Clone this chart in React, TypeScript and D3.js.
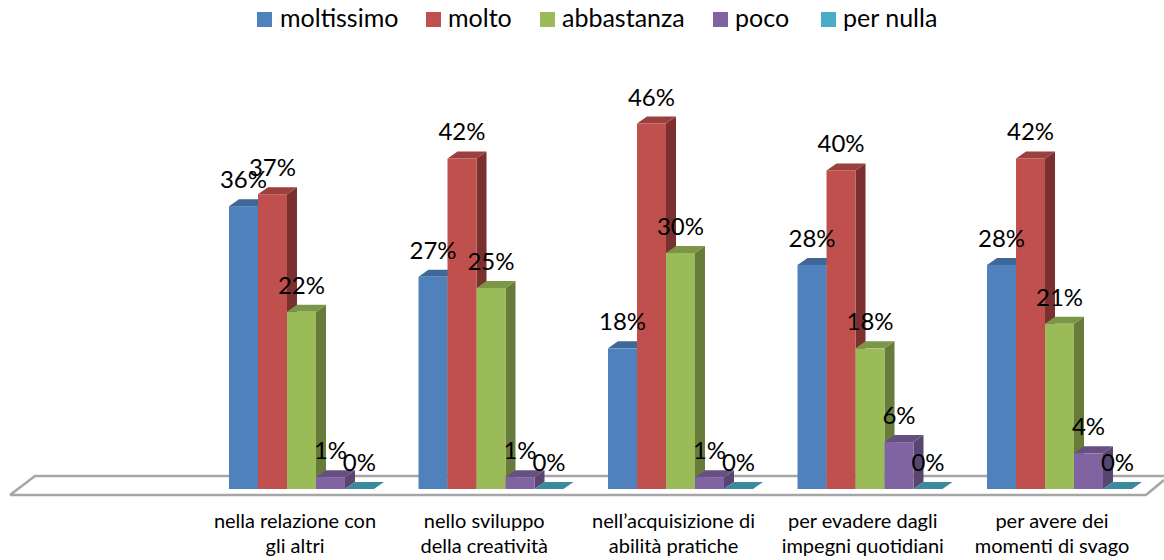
import * as d3 from "d3";

const categories = ["c1", "c2", "c3", "c4", "c5"];
const categoryLines = [
  ["nella relazione con", "gli altri"],
  ["nello sviluppo", "della creatività"],
  ["nell’acquisizione di", "abilità pratiche"],
  ["per evadere dagli", "impegni quotidiani"],
  ["per avere dei", "momenti di svago"],
];
const seriesNames = ["moltissimo", "molto", "abbastanza", "poco", "per nulla"];
const moltissimo = [35.6, 26.7, 17.7, 28.2, 28.2];
const molto = [37.1, 41.6, 46, 40.1, 41.6];
const abbastanza = [22.3, 25.3, 29.7, 17.7, 20.8];
const poco = [1.49, 1.49, 1.49, 5.9, 4.49];
const perNulla = [0, 0, 0, 0, 0];
const seriesValues = [moltissimo, molto, abbastanza, poco, perNulla];

const frontColors = ["#4f81bd", "#c0504d", "#9bbb59", "#8064a2", "#4bacc6"];
const topColors = ["#3f6797", "#9a403e", "#7c9647", "#665082", "#3c899e"];
const sideColors = ["#375a83", "#7a302f", "#677c3b", "#584671", "#34788a"];
const legendX = [257, 426, 540, 713, 821];

const W = 1164, H = 560;
const baseY = 489;
const dx = 10, dy = 7;
const font = "Lato, 'Open Sans', sans-serif";

const x0 = d3.scaleBand<string>()
  .domain(categories)
  .range([206.75, 1154.25])
  .paddingInner(0.235)
  .paddingOuter(0.1174);
const x1 = d3.scaleBand<string>()
  .domain(seriesNames)
  .range([0, x0.bandwidth()]);
const y = d3.scaleLinear().domain([0, 46]).range([baseY, 123.5]);
const labelX = d3.scalePoint<string>().domain(categories).range([295, 1052]);

// floor of the 3D plot
const floor = d3.line()([[10, 495], [1146, 495], [1164, 480]]) as string;
const floorBack = d3.line()([[10, 495], [35, 476], [1164, 476]]) as string;

function poly(pts: [number, number][]) {
  return d3.line()(pts) + "Z";
}

export default function App() {
  return (
    <svg
      width={W}
      height={H}
      style={{ position: "absolute", left: 0, top: 0, background: "#fff" }}
      fontFamily={font}
    >
      <path d={floorBack} fill="none" stroke="#a6a6a6" strokeWidth={2.5} />
      <path d={floor} fill="none" stroke="#a6a6a6" strokeWidth={2.5} />

      {categories.map((c, ci) => (
        <g key={c} transform={`translate(${x0(c)},0)`}>
          {seriesNames.map((s, si) => {
            const v = seriesValues[si][ci];
            const bx = x1(s) as number;
            const bw = x1.bandwidth();
            const top = y(v);
            return (
              <g key={s}>
                <path
                  d={poly([[bx + bw, top], [bx + bw + dx, top - dy], [bx + bw + dx, baseY - dy], [bx + bw, baseY]])}
                  fill={sideColors[si]}
                />
                <path
                  d={poly([[bx, top], [bx + dx, top - dy], [bx + bw + dx, top - dy], [bx + bw, top]])}
                  fill={topColors[si]}
                />
                {v > 0 && (
                  <rect x={bx} y={top} width={bw} height={baseY - top} fill={frontColors[si]} />
                )}
              </g>
            );
          })}
        </g>
      ))}

      {categories.map((c, ci) => (
        <g key={c} transform={`translate(${x0(c)},0)`}>
          {seriesNames.map((s, si) => {
            const v = seriesValues[si][ci];
            return (
              <text
                key={s}
                x={(x1(s) as number) + x1.bandwidth() / 2}
                y={y(v) - 18}
                textAnchor="middle"
                fontSize={24}
                fill="#000"
              >
                {d3.format(".0f")(v)}%
              </text>
            );
          })}
        </g>
      ))}

      {categories.map((c, ci) => (
        <text key={c} textAnchor="middle" fontSize={20} fill="#000">
          {categoryLines[ci].map((line, li) => (
            <tspan key={li} x={labelX(c)} y={528 + li * 25}>
              {line}
            </tspan>
          ))}
        </text>
      ))}

      {seriesNames.map((s, si) => (
        <g key={s} transform={`translate(${legendX[si]},12)`}>
          <rect width={15} height={15} fill={frontColors[si]} />
          <text x={si === 0 ? 23 : 22} y={15} fontSize={25} fill="#000">{s}</text>
        </g>
      ))}
    </svg>
  );
}
